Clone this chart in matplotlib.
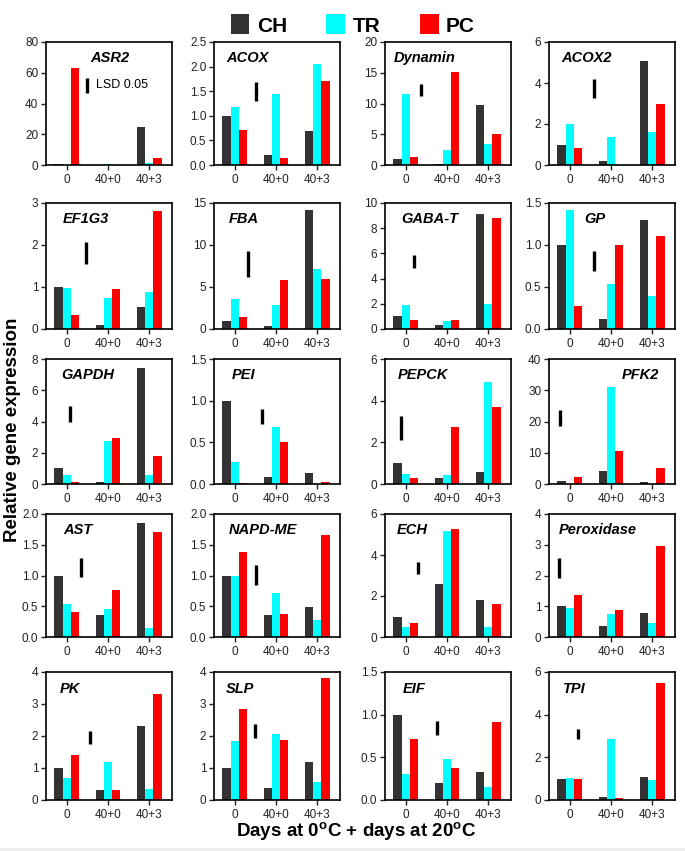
import matplotlib
matplotlib.use('Agg')
import matplotlib.pyplot as plt
from matplotlib.patches import Rectangle
import numpy as np

plt.rcParams['font.family'] = ['Liberation Sans', 'DejaVu Sans']
plt.rcParams['mathtext.fontset'] = 'custom'
plt.rcParams['mathtext.rm'] = 'Liberation Sans'
plt.rcParams['mathtext.bf'] = 'Liberation Sans:bold'

groups = ['0', '40+0', '40+3']
series = ['CH', 'TR', 'PC']
colors = ['#333333', '#00ffff', '#ff0000']

genes = ['ASR2', 'ACOX', 'Dynamin', 'ACOX2',
         'EF1G3', 'FBA', 'GABA-T', 'GP',
         'GAPDH', 'PEI', 'PEPCK', 'PFK2',
         'AST', 'NAPD-ME', 'ECH', 'Peroxidase',
         'PK', 'SLP', 'EIF', 'TPI']
ymax = [80, 2.5, 20, 6, 3, 15, 10, 1.5, 8, 1.5, 6, 40,
        2.0, 2.0, 6, 4, 4, 4, 1.5, 6]
ystep = [20, 0.5, 5, 2, 1, 5, 2, 0.5, 2, 0.5, 2, 10,
         0.5, 0.5, 2, 1, 1, 1, 0.5, 2]

ch = [[0.8, 0.0, 25.0], [1.0, 0.2, 0.7], [1.0, 0.1, 9.8], [1.0, 0.2, 5.05],
      [1.0, 0.1, 0.52], [1.0, 0.3, 14.2], [1.0, 0.35, 9.15], [1.0, 0.12, 1.3],
      [1.0, 0.1, 7.45], [1.0, 0.09, 0.13], [1.0, 0.27, 0.58], [1.0, 4.3, 0.5],
      [1.0, 0.36, 1.86], [1.0, 0.35, 0.49], [1.0, 2.58, 1.82], [1.0, 0.35, 0.77],
      [1.0, 0.3, 2.32], [1.0, 0.37, 1.2], [1.0, 0.2, 0.33], [1.0, 0.15, 1.1]]
tr = [[0.2, 0.6, 1.0], [1.18, 1.45, 2.05], [11.5, 2.4, 3.4], [2.0, 1.35, 1.6],
      [0.98, 0.73, 0.88], [3.6, 2.8, 7.1], [1.9, 0.6, 1.95], [1.42, 0.53, 0.39],
      [0.55, 2.75, 0.58], [0.26, 0.69, 0.0], [0.48, 0.42, 4.9], [0.0, 31.2, 0.0],
      [0.54, 0.46, 0.15], [1.0, 0.72, 0.28], [0.5, 5.15, 0.48], [0.95, 0.74, 0.47],
      [0.68, 1.2, 0.35], [1.83, 2.07, 0.55], [0.31, 0.48, 0.15], [1.02, 2.85, 0.95]]
pc = [[63.0, 0.0, 4.5], [0.72, 0.14, 1.7], [1.3, 15.2, 5.0], [0.85, 0.0, 3.0],
      [0.33, 0.95, 2.8], [1.4, 5.8, 6.0], [0.7, 0.75, 8.8], [0.27, 1.0, 1.11],
      [0.15, 2.95, 1.78], [0.01, 0.5, 0.03], [0.28, 2.75, 3.7], [2.4, 10.5, 5.2],
      [0.41, 0.76, 1.71], [1.38, 0.38, 1.66], [0.68, 5.25, 1.6], [1.35, 0.87, 2.95],
      [1.42, 0.3, 3.3], [2.85, 1.88, 3.82], [0.71, 0.38, 0.91], [1.0, 0.1, 5.5]]

# LSD 0.05 bar: x position, low, high
lsd_x = [0.5, 0.52, 0.37, 0.6, 0.47, 0.33, 0.2, 0.6, 0.09, 0.66, -0.12, -0.24,
         0.35, 0.52, 0.3, -0.25, 0.57, 0.49, 0.76, 0.2]
lsd_lo = [47, 1.3, 11.2, 3.25, 1.54, 6.2, 4.86, 0.69, 3.97, 0.72, 2.13, 18.5,
          0.98, 0.84, 3.09, 1.92, 1.74, 1.93, 0.76, 2.84]
lsd_hi = [56.5, 1.69, 13.1, 4.2, 2.06, 9.3, 5.9, 0.93, 4.97, 0.90, 3.25, 23.8,
          1.29, 1.17, 3.68, 2.57, 2.16, 2.37, 0.93, 3.35]

# where each gene name starts, in axes fraction
title_x = [0.35, 0.1, 0.07, 0.1, 0.13, 0.12, 0.13, 0.28,
           0.12, 0.14, 0.1, 0.58, 0.14, 0.12, 0.09, 0.08,
           0.11, 0.09, 0.14, 0.11]

W, H = 685, 851
fig = plt.figure(figsize=(W / 100, H / 100), dpi=100)

col_left = [46, 214, 385, 549]
row_top = [42, 203, 359, 514, 672]
row_bot = [165, 329, 484, 637, 800]
ax_w = 126

x = np.arange(len(groups))
bw = 0.2
handles = []
for i, g in enumerate(genes):
    r, c = divmod(i, 4)
    ax = fig.add_axes([col_left[c] / W, 1 - row_bot[r] / H, ax_w / W,
                       (row_bot[r] - row_top[r]) / H])
    for k, vals in enumerate([ch[i], tr[i], pc[i]]):
        b = ax.bar(x + (k - 1) * bw, vals, bw, color=colors[k], linewidth=0)
        if i == 0:
            handles.append(b)
    ax.plot([lsd_x[i], lsd_x[i]], [lsd_lo[i], lsd_hi[i]], color='black',
            lw=2.4, solid_capstyle='butt')
    ax.set_xlim(-0.5, 2.55)
    ax.set_ylim(0, ymax[i])
    ticks = np.arange(0, ymax[i] + ystep[i] / 2, ystep[i])
    ax.set_yticks(ticks)
    if ystep[i] < 1:
        ax.set_yticklabels(['%.1f' % t for t in ticks])
    else:
        ax.set_yticklabels(['%d' % t for t in ticks])
    ax.set_xticks(x)
    ax.set_xticklabels(groups)
    ax.tick_params(labelsize=8.5, length=3.5, width=1, pad=2, colors='#222222')
    ax.tick_params(axis='x', pad=3)
    for s in ax.spines.values():
        s.set_linewidth(1.2)
    ax.text(title_x[i], 0.87, g, transform=ax.transAxes, fontsize=10.5,
            fontweight='bold', fontstyle='italic', va='center', ha='left')
    if i == 0:
        ax.text(lsd_x[i] + 0.2, (lsd_lo[i] + lsd_hi[i]) / 2, 'LSD 0.05',
                fontsize=9, va='center', ha='left')

fig.legend(handles, series, loc='upper center', bbox_to_anchor=(0.515, 1.005),
           ncol=3, frameon=False, prop={'size': 15, 'weight': 'bold'},
           handlelength=0.9, handleheight=1.1, handletextpad=0.35,
           columnspacing=1.9)

fig.text(0.018, 0.495, 'Relative gene expression', rotation=90,
         fontsize=13.5, fontweight='bold', ha='center', va='center')
fig.text(0.52, 1 - 832 / H, r'Days at 0$^\mathbf{o}$C + days at 20$^\mathbf{o}$C',
         fontsize=13.5, fontweight='bold', ha='center', va='center')

fig.patches.append(Rectangle((0, 0), 1, 3 / H, transform=fig.transFigure,
                             color='#eeeeee', zorder=-1))

fig.savefig('out.png', dpi=100)
